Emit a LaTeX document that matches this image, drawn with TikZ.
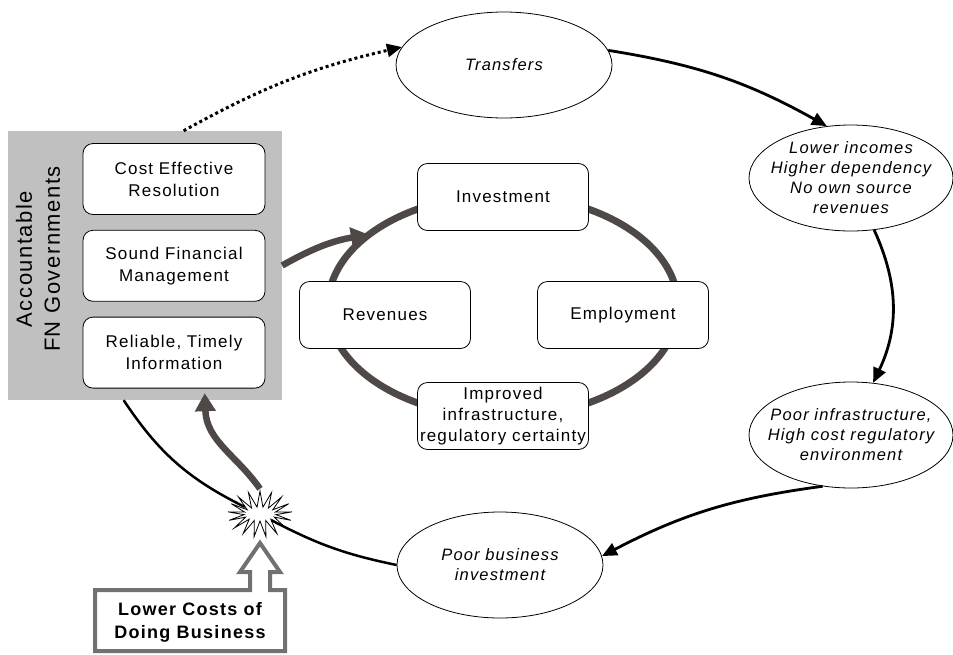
\documentclass[tikz,border=0pt]{standalone}
\usepackage{fontspec}
\newfontfamily\dfont[LetterSpace=7]{Liberation Sans}
\usepackage{tikz}
\usetikzlibrary{arrows.meta, positioning, shapes.geometric, shapes.symbols}
\definecolor{govgrey}{HTML}{C0C0C0}
\definecolor{ringgrey}{HTML}{4E4947}
\definecolor{costgrey}{HTML}{717171}

\begin{document}
\begin{tikzpicture}[x=1pt, y=-1pt]
		
		\tikzset{
			oval/.style={draw, ellipse, line width=0.8pt, minimum width=#1, minimum height=106pt,
				inner sep=-12pt, align=center, font=\dfont\itshape\fontsize{16.5}{20}\selectfont},
			oval/.default=206pt,
			govbox/.style={draw, fill=white, rounded corners=10pt, line width=0.8pt,
				minimum width=182pt, minimum height=71pt, text width=178pt, inner sep=0pt,
				align=center, font=\dfont\fontsize{17}{22}\selectfont},
			cyclebox/.style={draw, fill=white, rounded corners=10pt, line width=0.8pt,
				minimum width=171pt, minimum height=67pt, inner sep=1pt,
				align=center, font=\dfont\fontsize{17}{21}\selectfont},
			cyc/.style={line width=2.8pt, -{Triangle[length=15pt, width=13pt]}},
			cycline/.style={line width=2.5pt},
			dotarrow/.style={cyc, line width=3pt, dash pattern=on 3pt off 3pt},
			thick arrow/.style={line width=6.5pt, draw=ringgrey, -{Triangle[length=18pt, width=20pt]}}
		}
		
		\useasboundingbox (0,0) rectangle (953,654);
		
		% outer cycle
		\node[oval=216pt] (trans) at (504,65) {Transfers};
		\node[oval=204pt] (low) at (851,178) {Lower incomes\\Higher dependency\\No own source\\revenues};
		\node[oval=204pt] (pinf) at (851,435) {Poor infrastructure,\\High cost regulatory\\environment};
		\node[oval] (pbiz) at (500,565) {Poor business\\investment};
		
		% governments
		\node[fill=govgrey, minimum width=274pt, minimum height=269pt, inner sep=0pt] (govbg) at (145,265.5) {};
		\node[rotate=90, align=center, font=\dfont\fontsize{22}{28}\selectfont] (govlbl) at (38,259) {Accountable\\FN Governments};
		\node[govbox] (cost) at (174,179) {Cost Effective\\Resolution};
		\node[govbox, below=15pt of cost] (sound) {Sound Financial\\Management};
		\node[govbox, below=15pt of sound] (reli) {Reliable, Timely\\Information};
		
		% inner cycle
		\coordinate (ring) at (503,306);
		\draw[ringgrey, line width=7pt] (ring) ellipse [x radius=175, y radius=111];
		\path (ring) ++(220:175 and 111) coordinate (hit);
		\node[cyclebox] (inv) at (503,197) {Investment};
		\node[cyclebox] (rev) at (385,315) {Revenues};
		\node[cyclebox] (emp) at (623,315) {Employment};
		\node[cyclebox] (imp) at (503,416) {Improved\\infrastructure,\\regulatory certainty};
		
		\node[starburst, draw, fill=white, line width=0.8pt, starburst points=17, starburst point height=16pt,
			minimum width=64pt, minimum height=46pt, inner sep=0pt, random starburst=0] (burst) at (260,514) {};
		
		\draw[dotarrow] (govbg.74) to[bend left=8] (trans.170);
		\draw[cyc] (trans.8) to[bend left=10] (low.115);
		\draw[cyc] (low.-66) to[bend left=25] (pinf.67);
		\draw[cyc] (pinf.-119) to[bend right=10] (pbiz.5);
		\draw[cycline] (pbiz.west) to[bend left=8] (burst);
		\draw[cycline] (burst) to[bend left=15] (govbg.-99);
		
		\draw[thick arrow, shorten >=-7pt] (burst.north) to[out=125, in=-88] (govbg.-66);
		\draw[thick arrow] (govbg.east) to[bend left=10] (hit);
		
		% lower costs
		\draw[costgrey, line width=4pt, fill=white] (95,590) -- (250,590) -- (250,572) -- (240,572) -- (260,543)
			-- (280,572) -- (270,572) -- (270,590) -- (285,590) -- (285,651) -- (95,651) -- cycle;
		\node[align=center, font=\dfont\bfseries\fontsize{18}{23}\selectfont] (lcdb) at (190,622) {Lower Costs of\\Doing Business};
		
		\end{tikzpicture}
\end{document}
